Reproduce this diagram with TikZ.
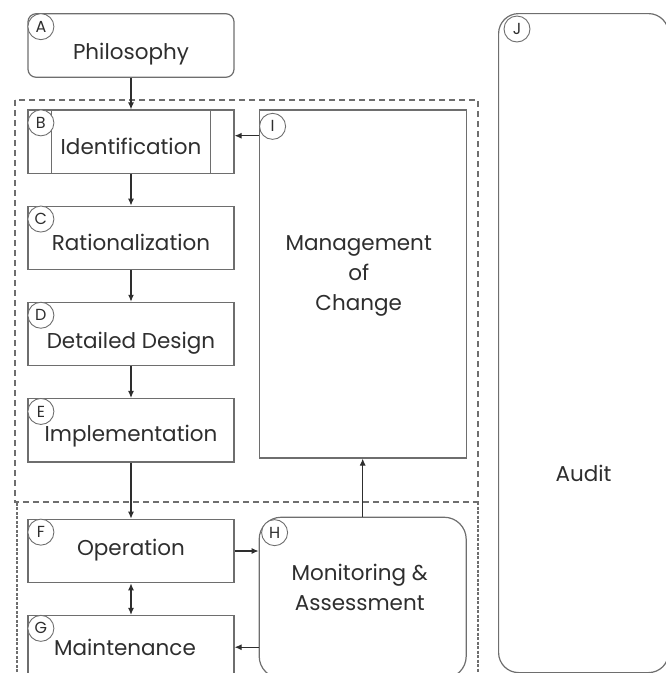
\documentclass[tikz,border=0pt]{standalone}
\usepackage{fontspec}
\setmainfont{Poppins}
\usetikzlibrary{positioning,arrows.meta}
\definecolor{boxgray}{HTML}{6E6E6E}
\definecolor{inkgray}{HTML}{2E2E2E}

\begin{document}
\begin{tikzpicture}[x=1pt,y=1pt,
  frame/.style={draw=boxgray,line width=1.2pt,text=inkgray,font=\fontsize{21.5}{30}\selectfont},
  box/.style={frame,minimum width=206pt,minimum height=63.5pt,text height=31pt,text depth=4pt},
  txt/.style={align=center,text=inkgray,font=\fontsize{21.5}{30}\selectfont},
  tag/.style={circle,draw=boxgray,line width=0.9pt,fill=white,minimum size=26pt,inner sep=0pt,text=inkgray,font=\fontsize{16}{16}\selectfont},
  arr/.style={draw=inkgray,line width=1.1pt,-{Latex[length=7pt,width=6pt]}},
  node distance=31.5pt]
  \useasboundingbox (0,0) rectangle (665,-673);
  % dashed regions
  \draw[boxgray,line width=1.1pt,dash pattern=on 6pt off 4pt] (15,-100) rectangle (478,-502);
  \draw[boxgray,line width=1.1pt,dash pattern=on 3pt off 1.5pt] (17,-690) -- (17,-502) (478,-502) -- (478,-690);
  % left column
  \node[box,rounded corners=8pt] (A) at (131,-45.5) {Philosophy};
  \node[box,below=of A,text height=29pt] (B) {Identification};
  \node[box,below=of B,text height=30pt] (C) {Rationalization};
  \node[box,below=of C,text height=32pt] (D) {Detailed Design};
  \node[box,below=of D,text height=27pt] (E) {Implementation};
  \node[box,below=56pt of E,text height=12pt] (F) {Operation};
  \node[box,below=of F,text height=21pt] (G) {\hspace*{-12pt}Maintenance};
  \draw[boxgray,line width=1.2pt] ([xshift=24pt]B.north west) -- ([xshift=24pt]B.south west)
    ([xshift=-24pt]B.north east) -- ([xshift=-24pt]B.south east);
  % right column
  \node[frame,minimum width=207pt,minimum height=348pt,right=24pt of B.north east,anchor=north west] (I) {};
  \node[txt] (moc) at ([xshift=-4pt,yshift=7.5pt]I.center) {Management\\of\\Change};
  \node[frame,rounded corners=22pt,minimum width=207pt,minimum height=161pt,right=24pt of F.north east,anchor=north west,yshift=2pt] (H) {};
  \node[txt] (mon) at ([xshift=-3pt,yshift=10pt]H.center) {Monitoring \&\\Assessment};
  \node[frame,rounded corners=20pt,minimum width=170pt,minimum height=659pt,anchor=north west] (J) at (498,-13) {};
  \node[txt] (audit) at ([yshift=-130.5pt]J.center) {Audit};
  % letter tags
  \foreach \n in {A,B,C,D,E,F,G}
    \node[tag] (tag\n) at ([shift={(13.5pt,-13.5pt)}]\n.north west) {\n};
  \node[tag] (tagI) at ([shift={(14pt,-17pt)}]I.north west) {I};
  \node[tag] (tagH) at ([shift={(16pt,-16pt)}]H.north west) {H};
  \node[tag] (tagJ) at ([shift={(19pt,-16pt)}]J.north west) {J};
  % connectors
  \draw[arr] (A) -- (B);
  \draw[arr] (B) -- (C);
  \draw[arr] (C) -- (D);
  \draw[arr] (D) -- (E);
  \draw[arr] (E) -- (F);
  \draw[arr,{Latex[length=7pt,width=6pt]}-{Latex[length=7pt,width=6pt]}] (F) -- (G);
  \draw[arr] (F.east) -- (F.east -| H.west);
  \draw[arr] (G.east -| H.west) -- (G.east);
  \draw[arr] (H) -- (I);
  \draw[arr] ([yshift=6pt]B.east -| I.west) -- ([yshift=6pt]B.east);
\end{tikzpicture}
\end{document}
